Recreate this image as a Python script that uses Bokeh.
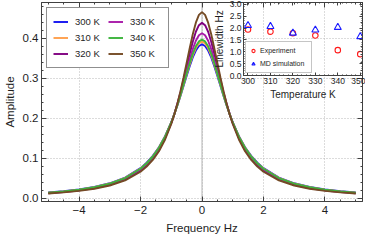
from bokeh.plotting import figure
from bokeh.models import (GridBox, Legend, LegendItem, LinearAxis, FixedTicker,
                          CustomJSTickFormatter, Span)
from bokeh.embed import file_html
from bokeh.resources import INLINE

# ---------------- data ----------------
FREQ = [0.0, 0.1, 0.2, 0.3, 0.4, 0.5, 0.6, 0.7, 0.8, 0.9, 1.0,
        1.2, 1.4, 1.6, 1.8, 2.0, 2.5, 3.0, 3.5, 4.0, 4.5, 5.0]
A300 = [0.3850, 0.3811, 0.3698, 0.3525, 0.3307, 0.3064, 0.2811, 0.2562, 0.2324, 0.2102, 0.1900,
        0.1554, 0.1278, 0.1061, 0.0890, 0.0754, 0.0519, 0.0376, 0.0284, 0.0221, 0.0177, 0.0144]
A310 = [0.3920, 0.3879, 0.3760, 0.3577, 0.3349, 0.3096, 0.2834, 0.2576, 0.2331, 0.2105, 0.1898,
        0.1547, 0.1270, 0.1052, 0.0881, 0.0745, 0.0512, 0.0370, 0.0279, 0.0217, 0.0174, 0.0142]
A320 = [0.4390, 0.4333, 0.4168, 0.3920, 0.3619, 0.3293, 0.2967, 0.2656, 0.2369, 0.2111, 0.1882,
        0.1504, 0.1215, 0.0995, 0.0825, 0.0693, 0.0470, 0.0338, 0.0253, 0.0197, 0.0157, 0.0128]
A330 = [0.4130, 0.4082, 0.3944, 0.3733, 0.3474, 0.3189, 0.2898, 0.2616, 0.2352, 0.2111, 0.1893,
        0.1529, 0.1246, 0.1026, 0.0856, 0.0721, 0.0493, 0.0355, 0.0267, 0.0208, 0.0166, 0.0135]
A340 = [0.3970, 0.3927, 0.3804, 0.3615, 0.3380, 0.3119, 0.2850, 0.2586, 0.2337, 0.2107, 0.1898,
        0.1543, 0.1264, 0.1046, 0.0875, 0.0740, 0.0507, 0.0367, 0.0276, 0.0215, 0.0172, 0.0140]
A350 = [0.4660, 0.4591, 0.4395, 0.4104, 0.3755, 0.3385, 0.3022, 0.2682, 0.2373, 0.2099, 0.1860,
        0.1471, 0.1179, 0.0960, 0.0793, 0.0664, 0.0448, 0.0320, 0.0240, 0.0186, 0.0148, 0.0121]
SERIES = [A300, A310, A320, A330, A340, A350]
SERIES_LABELS = ["300 K", "310 K", "320 K", "330 K", "340 K", "350 K"]
COLORS = ["#1414f0", "#ffa04c", "#800080", "#a81aa8", "#3cb43c", "#744a24"]

TEMPS = [300, 310, 320, 330, 340, 350]
EXP_LW = [1.94, 1.85, 1.78, 1.69, 1.07, 0.90]
MD_LW = [2.11, 2.07, 1.79, 1.92, 2.03, 1.64]

X_TICKS = [-4, -2, 0, 2, 4]
X_TICK_LABELS = ["\u22124", "\u22122", "0", "2", "4"]
Y_TICKS = [0.0, 0.1, 0.2, 0.3, 0.4]
Y_TICK_LABELS = ["0.0", "0.1", "0.2", "0.3", "0.4"]
INS_X_TICKS = [300, 310, 320, 330, 340, 350]
INS_X_TICK_LABELS = ["300", "310", "320", "330", "340", "350"]
INS_Y_TICKS = [0.0, 0.5, 1.0, 1.5, 2.0, 2.5, 3.0]
INS_Y_TICK_LABELS = ["0.0", "0.5", "1.0", "1.5", "2.0", "2.5", "3.0"]

FONT = "Liberation Sans"
AX = "#404040"
TXT = "#1e1e1e"


def style_axis(ax, tick_in, label_size, title_size, blank=False):
    ax.axis_line_color = AX
    ax.axis_line_width = 1
    ax.major_tick_line_color = AX
    ax.minor_tick_line_color = AX
    ax.major_tick_in = tick_in
    ax.major_tick_out = 0
    ax.minor_tick_in = max(1, tick_in // 2)
    ax.minor_tick_out = 0
    ax.major_label_text_font = FONT
    ax.major_label_text_font_size = label_size
    ax.major_label_text_color = TXT
    ax.axis_label_text_font = FONT
    ax.axis_label_text_font_size = title_size
    ax.axis_label_text_font_style = "normal"
    ax.axis_label_text_color = TXT
    if blank:
        ax.formatter = CustomJSTickFormatter(code="return ''")
        ax.major_label_standoff = 0
        ax.axis_label = None


# ---------------- main plot ----------------
p = figure(width=365, height=236, x_range=(-5.22, 5.22), y_range=(-0.008, 0.49),
           output_backend="svg", toolbar_location=None,
           min_border_left=0, min_border_right=1, min_border_top=0, min_border_bottom=0)
p.background_fill_color = "white"
p.border_fill_color = "white"
p.outline_line_color = AX

x_minor = [i * 0.5 - 5.0 for i in range(21)]
y_minor = [i * 0.02 for i in range(25)]
xt = FixedTicker(ticks=X_TICKS, minor_ticks=x_minor)
yt = FixedTicker(ticks=Y_TICKS, minor_ticks=y_minor)
p.xaxis.ticker = xt
p.yaxis.ticker = yt
p.xaxis.major_label_overrides = dict(zip(X_TICKS, X_TICK_LABELS))
p.yaxis.major_label_overrides = dict(zip(Y_TICKS, Y_TICK_LABELS))
p.xaxis.axis_label = "Frequency Hz"
p.yaxis.axis_label = "Amplitude"
style_axis(p.xaxis[0], 5, "11.5px", "11.5px")
style_axis(p.yaxis[0], 5, "11.5px", "11.5px")
p.xaxis.major_label_standoff = 4
p.xaxis.axis_label_standoff = 5
p.yaxis.major_label_standoff = 3
p.yaxis.axis_label_standoff = 4

top = LinearAxis(ticker=xt)
style_axis(top, 5, "11.5px", "11.5px", blank=True)
p.add_layout(top, "above")
right = LinearAxis(ticker=yt)
style_axis(right, 5, "11.5px", "11.5px", blank=True)
p.add_layout(right, "right")

p.grid.grid_line_color = "#b8b8b8"
p.grid.grid_line_dash = "1 2"
p.xgrid.ticker = xt
p.ygrid.ticker = yt

p.add_layout(Span(location=0, dimension="height", line_color="#b4b4b4",
                  line_width=1, level="underlay"))

freq_full = [-f for f in reversed(FREQ[1:])] + FREQ
items = []
for amps, lbl, col in zip(SERIES, SERIES_LABELS, COLORS):
    amp_full = list(reversed(amps[1:])) + amps
    r = p.line(freq_full, amp_full, line_color=col, line_width=1.9)
    items.append(LegendItem(label=lbl, renderers=[r]))

leg = Legend(items=items, location="top_left", ncols=2, margin=5, padding=6, spacing=1,
             glyph_width=15, glyph_height=15, label_height=15, label_width=32,
             label_standoff=7, label_text_font=FONT, label_text_font_size="9.5px",
             label_text_color=TXT, border_line_color="#202020", border_line_width=1,
             background_fill_color="white", background_fill_alpha=1)
p.add_layout(leg)

# ---------------- inset ----------------
ins = figure(width=163, height=110, x_range=(298, 351), y_range=(0, 3.08),
             output_backend="svg", toolbar_location=None,
             min_border_left=30, min_border_right=3, min_border_top=2, min_border_bottom=0,
             margin=(0, 0, 0, 202))
ins.background_fill_color = None
ins.border_fill_color = None
ins.outline_line_color = AX
ins.grid.visible = False

ixt = FixedTicker(ticks=INS_X_TICKS, minor_ticks=[298 + 2 * i for i in range(27)])
iyt = FixedTicker(ticks=INS_Y_TICKS, minor_ticks=[i * 0.1 for i in range(31)])
ins.xaxis.ticker = ixt
ins.yaxis.ticker = iyt
ins.xaxis.major_label_overrides = dict(zip(INS_X_TICKS, INS_X_TICK_LABELS))
ins.yaxis.major_label_overrides = dict(zip(INS_Y_TICKS, INS_Y_TICK_LABELS))
ins.xaxis.axis_label = "Temperature K"
ins.yaxis.axis_label = "Linewidth Hz"
style_axis(ins.xaxis[0], 3, "8.5px", "10px")
style_axis(ins.yaxis[0], 3, "8.5px", "10px")
ins.xaxis.major_label_standoff = 2
ins.xaxis.axis_label_standoff = 2
ins.yaxis.major_label_standoff = 2
ins.yaxis.axis_label_standoff = 2
itop = LinearAxis(ticker=ixt)
style_axis(itop, 3, "8.5px", "10px", blank=True)
ins.add_layout(itop, "above")
iright = LinearAxis(ticker=iyt)
style_axis(iright, 3, "8.5px", "10px", blank=True)
ins.add_layout(iright, "right")

r_exp = ins.scatter(TEMPS, EXP_LW, marker="circle", size=5.5, fill_color=None,
                    line_color="#ff1a1a", line_width=1.1)
r_md = ins.scatter(TEMPS, MD_LW, marker="triangle", size=7, fill_color=None,
                   line_color="#1a1aff", line_width=1.1)
ileg = Legend(items=[LegendItem(label="Experiment", renderers=[r_exp]),
                     LegendItem(label="MD simulation", renderers=[r_md])],
              location="bottom_left", margin=2, padding=3, spacing=2,
              glyph_width=8, glyph_height=11, label_height=11, label_width=48,
              label_standoff=3, label_text_font=FONT, label_text_font_size="7px",
              label_text_color=TXT, border_line_color="#8c8c8c", border_line_width=1.2,
              background_fill_color="white", background_fill_alpha=1)
ins.add_layout(ileg)

grid = GridBox(children=[(p, 0, 0), (ins, 0, 0)])

open("out.html", "w").write(file_html(grid, INLINE))
